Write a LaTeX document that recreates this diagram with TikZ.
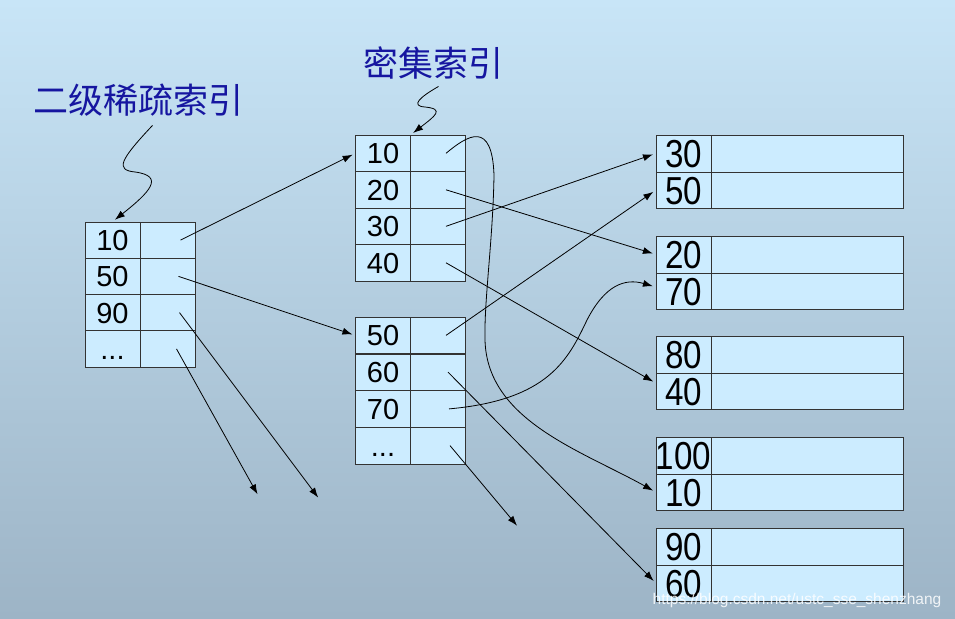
\documentclass[tikz,border=0pt]{standalone}
\usepackage{fontspec}
\setmainfont{Liberation Sans}
\newfontfamily\cjkfont{Noto Sans CJK SC}
\newfontfamily\narrowfont[FakeStretch=0.85]{Liberation Sans}
\usetikzlibrary{arrows.meta}
\definecolor{bgtop}{RGB}{200,229,247}
\definecolor{bgbottom}{RGB}{157,180,198}
\definecolor{cellblue}{RGB}{204,236,255}
\definecolor{titleblue}{RGB}{22,22,160}

\begin{document}
\begin{tikzpicture}[x=1pt,y=-1pt,
							keynode/.style={rectangle, draw=black!80, fill=cellblue, inner sep=0pt, minimum width=55pt, minimum height=36.5pt, font=\fontsize{29}{29}\selectfont, text height=20.8pt, text depth=0pt},
							ptrnode/.style={rectangle, draw=black!80, fill=cellblue, inner sep=0pt, minimum width=55pt, minimum height=36.5pt},
							blockkey/.style={keynode, minimum height=36.7pt, font=\fontsize{39}{39}\narrowfont, text height=28pt},
							blockdata/.style={ptrnode, minimum width=192pt, minimum height=36.7pt},
							titlenode/.style={font=\fontsize{35}{35}\cjkfont, text=titleblue, inner sep=0pt},
							link/.style={-{Latex[length=10pt,width=7pt]}, line width=0.8pt, shorten >=3pt},
							]
							\shade[top color=bgtop, bottom color=bgbottom] (0,0) rectangle (955,618);
							\useasboundingbox (0,0) rectangle (955,618);
							%Nodes
							\node[titlenode]      (label1) 	at	(138.5,100) 	{二级稀疏索引};
							\node[titlenode]      (label2) 	at	(433.5,63) 		{密集索引};
							
							\node[keynode]      (s1) 	at 	(112.5,240.1)       {10};
							\node[ptrnode]      (sp1) 	at 	(167.5,240.1)       {};
							\node[keynode]      (s2) 	at 	(112.5,276.4)       {50};
							\node[ptrnode]      (sp2) 	at 	(167.5,276.4)       {};
							\node[keynode]      (s3) 	at 	(112.5,312.6)       {90};
							\node[ptrnode]      (sp3) 	at 	(167.5,312.6)       {};
							\node[keynode]      (s4) 	at 	(112.5,348.9)       {...};
							\node[ptrnode]      (sp4) 	at 	(167.5,348.9)       {};
							
							\node[keynode]      (d1) 	at 	(383,153.3)         {10};
							\node[ptrnode]      (dp1) 	at 	(438,153.3)         {};
							\node[keynode]      (d2) 	at 	(383,189.8)         {20};
							\node[ptrnode]      (dp2) 	at 	(438,189.8)         {};
							\node[keynode]      (d3) 	at 	(383,226.3)         {30};
							\node[ptrnode]      (dp3) 	at 	(438,226.3)         {};
							\node[keynode]      (d4) 	at 	(383,262.8)         {40};
							\node[ptrnode]      (dp4) 	at 	(438,262.8)         {};
							\node[keynode]      (d5) 	at 	(383,335.4)         {50};
							\node[ptrnode]      (dp5) 	at 	(438,335.4)         {};
							\node[keynode]      (d6) 	at 	(383,372.1)         {60};
							\node[ptrnode]      (dp6) 	at 	(438,372.1)         {};
							\node[keynode]      (d7) 	at 	(383,408.9)         {70};
							\node[ptrnode]      (dp7) 	at 	(438,408.9)         {};
							\node[keynode]      (d8) 	at 	(383,445.6)         {...};
							\node[ptrnode]      (dp8) 	at 	(438,445.6)         {};
							
							\node[blockkey]     (b1) 	at 	(683.5,153.4)       {30};
							\node[blockdata]    (bd1) 	at 	(807,153.4)         {};
							\node[blockkey]     (b2) 	at 	(683.5,190.1)       {50};
							\node[blockdata]    (bd2) 	at 	(807,190.1)         {};
							\node[blockkey]     (b3) 	at 	(683.5,254.4)       {20};
							\node[blockdata]    (bd3) 	at 	(807,254.4)         {};
							\node[blockkey]     (b4) 	at 	(683.5,291.1)       {70};
							\node[blockdata]    (bd4) 	at 	(807,291.1)         {};
							\node[blockkey]     (b5) 	at 	(683.5,354.4)       {80};
							\node[blockdata]    (bd5) 	at 	(807,354.4)         {};
							\node[blockkey]     (b6) 	at 	(683.5,391.1)       {40};
							\node[blockdata]    (bd6) 	at 	(807,391.1)         {};
							\node[blockkey]     (b7) 	at 	(683.5,455.4)       {100};
							\node[blockdata]    (bd7) 	at 	(807,455.4)         {};
							\node[blockkey]     (b8) 	at 	(683.5,492.1)       {10};
							\node[blockdata]    (bd8) 	at 	(807,492.1)         {};
							\node[blockkey]     (b9) 	at 	(683.5,546.4)       {90};
							\node[blockdata]    (bd9) 	at 	(807,546.4)         {};
							\node[blockkey]     (b10) 	at 	(683.5,583.1)       {60};
							\node[blockdata]    (bd10) 	at 	(807,583.1)         {};
							
							\coordinate         (e1) 	at 	(320,500);
							\coordinate         (e2) 	at 	(259,497);
							\coordinate         (e3) 	at 	(519,528);
							\node[font=\fontsize{15.5}{15.5}\selectfont, text=white, opacity=0.85] (mark) at (797,600) {https://blog.csdn.net/ustc\_sse\_shenzhang};
							
							%Squiggles
							\draw[link] ([xshift=14pt,yshift=-9pt]label1.south) .. controls (120,160) and (115,170) .. (135,172) .. controls (165,176) and (150,192) .. (s1.north);
							\draw[link] ([xshift=5pt,yshift=-7pt]label2.south) .. controls (420,97) and (410,106) .. (425,107) .. controls (445,109) and (435,116) .. (d1.north east);
							
							%Links
							\draw[link] ([xshift=13pt]sp1.center) --  (d1.west);
							\draw[link] ([xshift=11pt]sp2.center) --  (d5.west);
							\draw[link] ([xshift=12pt]sp3.center) --  (e1);
							\draw[link] ([xshift=9pt]sp4.center) --  (e2);
							\draw[link] ([xshift=8pt]dp1.center) .. controls (468,135) and (492,120) .. (494,175) .. controls (493,240) and (484,300) .. (485,340) .. controls (487,420) and (580,450) .. (b8.west);
							\draw[link] ([xshift=8pt]dp2.center) --  (b3.west);
							\draw[link] ([xshift=8pt]dp3.center) --  (b1.west);
							\draw[link] ([xshift=8pt]dp4.center) --  ([yshift=8pt]b6.west);
							\draw[link] ([xshift=8pt]dp5.center) --  (b2.west);
							\draw[link] ([xshift=10pt]dp6.center) --  (b10.west);
							\draw[link] ([xshift=11pt]dp7.center) .. controls (548,400) and (568,360) .. (587,320) .. controls (605,285) and (625,278) .. ([yshift=4pt]b4.west);
							\draw[link] ([xshift=12pt]dp8.center) --  (e3);
						\end{tikzpicture}
\end{document}
